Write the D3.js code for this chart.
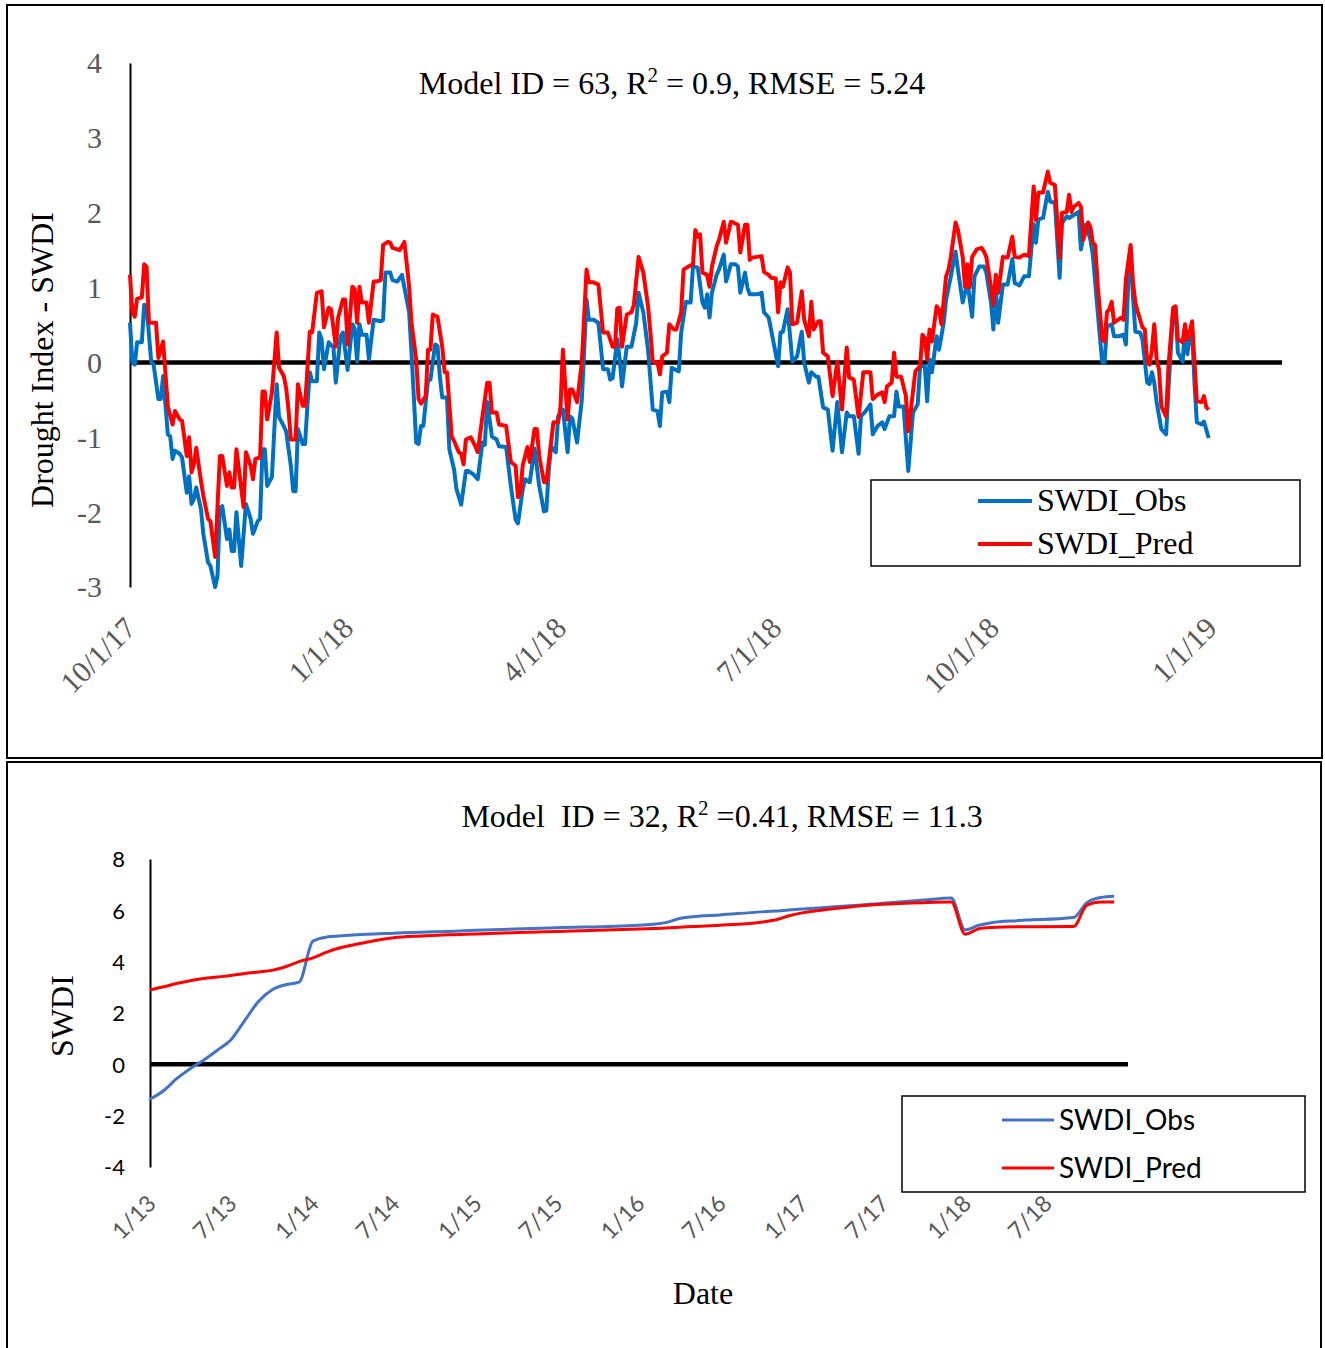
<!DOCTYPE html>
<html>
<head>
<meta charset="utf-8">
<script src="https://cdn.jsdelivr.net/npm/d3@7"></script>
<style>
  body { margin: 0; background: #fff; }
  svg { display: block; }
</style>
</head>
<body>
<svg id="fig" width="1325" height="1348"></svg>
<script>
// ---------- Panel A: daily SWDI, Model 63 (day offsets counted from 1 Oct 2017) ----------
const topStart = "2017-10-01";
const topEnd = "2019-01-31";
const topTickDates = ["2017-10-01", "2018-01-01", "2018-04-01", "2018-07-01", "2018-10-01", "2019-01-01"];
const topTickLabels = ["10/1/17", "1/1/18", "4/1/18", "7/1/18", "10/1/18", "1/1/19"];
const topYTicks = [4, 3, 2, 1, 0, -1, -2, -3];
const topSeriesNames = ["SWDI_Obs", "SWDI_Pred"];

// [day, SWDI] observed
const topObs = [
  [0,0.53],[1,0.0],[2,-0.03],[3,0.27],[5,0.27],[6,0.77],[7,0.75],[9,0.0],[10,-0.03],[12,-0.49],[13,-0.49],[14,-0.18],
  [16,-0.96],[17,-0.99],[18,-1.29],[19,-1.18],[21,-1.22],[22,-1.27],[24,-1.74],[25,-1.52],[26,-1.89],[27,-1.83],[28,-1.67],
  [30,-1.96],[31,-2.29],[33,-2.67],[34,-2.72],[36,-3.0],[37,-2.85],[38,-1.94],[39,-1.92],[41,-2.36],[42,-2.23],[43,-2.52],
  [44,-2.52],[45,-2.0],[47,-2.72],[49,-1.89],[51,-2.09],[52,-2.29],[54,-2.12],[55,-2.09],[56,-1.16],[57,-1.16],[58,-1.65],
  [60,-1.53],[62,-0.29],[63,-0.73],[65,-0.85],[66,-0.92],[68,-1.38],[69,-1.72],[70,-1.72],[71,-0.89],[73,-1.09],[74,-1.09],
  [75,-0.58],[76,-0.13],[77,-0.25],[79,-0.25],[80,0.40],[81,0.31],[82,-0.09],[84,0.27],[86,0.20],[87,-0.27],[89,0.35],
  [90,0.40],[92,-0.10],[94,0.51],[95,0.45],[96,0.01],[97,0.51],[98,0.37],[100,0.37],[101,0.04],[103,0.57],[106,0.55],
  [107,0.57],[108,1.20],[110,1.20],[111,1.10],[113,1.08],[115,1.17],[118,0.67],[119,0.13],[121,-1.07],[122,-1.09],
  [123,-0.85],[124,-0.85],[126,-0.23],[127,-0.23],[129,0.24],[130,0.22],[131,-0.19],[132,-0.47],[134,-0.47],[135,-1.16],
  [137,-1.43],[138,-1.69],[140,-1.90],[142,-1.45],[143,-1.45],[145,-1.49],[147,-1.56],[149,-1.07],[150,-1.10],[151,-0.53],
  [153,-0.99],[155,-1.03],[156,-1.12],[159,-1.13],[161,-1.65],[163,-2.10],[164,-2.15],[166,-1.70],[167,-1.56],[169,-1.60],
  [171,-1.15],[173,-1.65],[175,-1.99],[176,-1.98],[177,-1.45],[178,-1.12],[180,-1.20],[181,-0.72],[183,-0.63],[185,-1.20],
  [186,-0.72],[187,-0.75],[189,-1.07],[191,-0.50],[193,0.84],[194,0.57],[196,0.57],[198,0.53],[200,-0.09],[202,-0.09],
  [203,-0.23],[204,-0.21],[206,0.31],[207,0.04],[208,-0.32],[210,0.21],[212,0.21],[214,0.53],[215,0.93],[217,0.67],
  [219,0.17],[220,-0.23],[221,-0.63],[223,-0.65],[224,-0.85],[225,-0.40],[227,-0.39],[228,-0.53],[229,-0.07],[232,-0.12],
  [233,0.40],[235,0.81],[237,0.80],[238,1.28],[240,1.27],[242,0.80],[243,0.73],[244,0.91],[245,0.60],[246,0.93],
  [248,1.17],[249,1.24],[251,1.44],[252,1.08],[254,1.31],[256,1.31],[257,1.28],[258,0.93],[260,1.20],[261,1.0],
  [262,0.91],[265,0.91],[267,0.93],[268,0.67],[270,0.60],[271,0.44],[274,-0.05],[275,0.40],[276,0.41],[278,0.71],
  [280,0.01],[282,0.08],[284,0.41],[285,0.0],[287,-0.27],[288,-0.13],[290,-0.19],[291,-0.19],[293,-0.60],[295,-0.63],
  [297,-1.18],[299,-0.53],[301,-1.20],[303,-0.67],[304,-0.72],[306,-0.72],[308,-1.22],[309,-0.72],[311,-0.65],[313,-0.56],
  [314,-0.96],[316,-0.85],[318,-0.80],[319,-0.89],[321,-0.72],[323,-0.72],[324,-0.39],[325,-0.59],[327,-0.59],[329,-1.45],
  [331,-0.67],[333,-0.56],[334,-0.05],[336,-0.05],[337,-0.52],[338,0.04],[339,-0.13],[341,0.35],[342,0.17],[344,0.53],
  [345,0.84],[347,1.15],[349,1.48],[350,1.24],[352,0.80],[354,1.07],[356,0.61],[357,1.15],[359,1.28],[361,1.28],
  [362,1.20],[364,0.80],[365,0.44],[366,1.01],[367,0.53],[369,1.04],[371,1.04],[373,1.38],[374,1.06],[376,1.03],
  [378,1.15],[380,1.15],[382,1.85],[383,1.60],[384,1.91],[386,1.93],[388,2.28],[389,2.15],[391,2.13],[393,1.13],
  [394,1.86],[396,1.95],[397,1.93],[399,1.97],[401,2.01],[402,1.51],[404,1.84],[406,1.64],[407,1.44],[410,0.35],
  [411,0.0],[412,0.0],[413,0.48],[415,0.51],[416,0.35],[418,0.35],[420,0.37],[421,0.24],[422,1.07],[423,1.47],
  [424,0.88],[425,0.41],[427,0.40],[428,0.31],[430,-0.27],[431,-0.29],[432,-0.13],[433,-0.27],[434,-0.53],[436,-0.89],
  [438,-0.96],[439,-0.36],[441,0.71],[442,0.71],[443,0.13],[445,0.01],[446,0.47],[447,0.11],[448,0.35],[449,0.44],
  [450,-0.27],[451,-0.80],[453,-0.83],[454,-0.79],[456,-1.01]
];

// [day, SWDI] predicted
const topPred = [
  [0,1.17],[1,0.67],[2,0.61],[3,0.85],[5,0.87],[6,1.31],[7,1.28],[8,0.53],[11,0.53],[12,0.06],[14,0.28],[16,-0.59],
  [18,-0.83],[19,-0.65],[21,-0.76],[22,-0.78],[24,-1.25],[25,-1.0],[26,-1.47],[27,-1.36],[28,-1.14],[30,-1.58],[31,-1.78],
  [33,-2.09],[34,-2.12],[36,-2.6],[38,-1.25],[39,-1.25],[41,-1.65],[42,-1.47],[43,-1.67],[44,-1.67],[45,-1.16],[48,-1.93],
  [49,-1.2],[51,-1.38],[52,-1.56],[53,-1.29],[55,-1.27],[56,-0.39],[57,-0.39],[58,-0.76],[60,-0.40],[62,0.40],[63,-0.07],
  [65,-0.18],[66,-0.34],[67,-0.63],[68,-1.03],[70,-1.03],[71,-0.29],[73,-0.58],[74,-0.58],[75,-0.09],[76,0.41],[77,0.40],
  [79,0.93],[81,0.95],[82,0.47],[84,0.73],[85,0.71],[87,0.21],[88,0.60],[90,0.84],[91,0.84],[92,0.24],[94,1.01],[95,0.98],
  [96,0.53],[97,1.01],[98,0.80],[100,0.80],[101,0.53],[103,1.08],[104,1.08],[106,1.10],[107,1.57],[109,1.61],[110,1.60],
  [111,1.53],[113,1.51],[114,1.50],[116,1.61],[118,1.01],[119,0.53],[121,0.04],[122,-0.49],[123,-0.55],[125,-0.45],
  [126,0.17],[127,0.17],[128,0.64],[130,0.61],[132,0.21],[133,-0.13],[134,-0.13],[136,-0.99],[137,-1.05],[139,-1.20],
  [140,-1.22],[141,-1.36],[142,-1.03],[144,-1.00],[146,-1.12],[147,-1.20],[149,-0.72],[151,-0.27],[152,-0.27],[153,-0.67],
  [155,-0.67],[156,-0.83],[159,-0.85],[161,-1.33],[163,-1.38],[164,-1.80],[165,-1.75],[166,-1.38],[168,-1.13],[169,-1.33],
  [171,-0.89],[172,-0.89],[173,-1.25],[175,-1.60],[176,-1.60],[178,-1.07],[179,-0.80],[181,-0.80],[182,-0.59],[183,0.17],
  [185,-0.76],[186,-0.36],[187,-0.36],[189,-0.53],[191,0.0],[193,1.24],[194,1.07],[196,1.07],[198,1.04],[200,0.40],
  [201,0.40],[202,0.40],[204,0.21],[205,0.21],[206,0.72],[207,0.73],[208,0.21],[210,0.64],[212,0.67],[213,0.77],
  [215,1.41],[217,1.20],[219,0.75],[220,0.40],[221,0.01],[223,0.0],[224,-0.16],[225,0.08],[227,0.13],[228,0.51],
  [230,0.44],[231,0.44],[233,0.67],[234,1.24],[236,1.28],[238,1.31],[239,1.77],[240,1.68],[241,1.71],[242,1.20],
  [244,1.17],[245,1.01],[246,1.28],[248,1.55],[249,1.64],[251,1.88],[252,1.60],[254,1.88],[255,1.87],[257,1.84],
  [258,1.47],[260,1.84],[261,1.84],[262,1.37],[263,1.40],[265,1.41],[267,1.42],[268,1.21],[270,1.17],[271,1.13],
  [273,1.12],[274,0.67],[275,1.07],[276,1.01],[278,1.27],[279,1.20],[280,0.51],[282,0.53],[284,0.95],[285,0.57],
  [287,0.35],[288,0.81],[289,0.44],[291,0.55],[292,0.55],[293,0.13],[295,0.08],[297,-0.45],[299,0.01],[301,-0.63],
  [303,0.20],[304,-0.20],[306,-0.23],[308,-0.73],[310,-0.13],[312,-0.13],[313,-0.13],[314,-0.49],[316,-0.43],[318,-0.40],
  [319,-0.53],[320,-0.32],[322,-0.27],[323,0.13],[324,-0.19],[326,-0.19],[328,-0.45],[329,-0.92],[331,-0.39],[332,-0.12],
  [334,-0.05],[335,0.37],[336,0.33],[337,0.04],[338,0.44],[339,0.28],[341,0.75],[342,0.71],[343,0.51],[345,1.15],
  [346,1.24],[347,1.41],[349,1.87],[350,1.77],[352,1.41],[353,1.01],[354,1.31],[355,1.00],[356,1.41],[358,1.51],
  [360,1.53],[361,1.48],[362,1.41],[364,1.00],[365,0.77],[366,1.17],[367,0.93],[369,1.41],[371,1.40],[373,1.68],
  [374,1.41],[376,1.40],[378,1.44],[380,1.42],[382,2.35],[383,1.90],[384,2.27],[386,2.27],[388,2.55],[389,2.40],
  [391,2.37],[393,1.40],[394,2.00],[396,2.01],[397,2.24],[398,2.01],[399,2.08],[401,2.13],[402,2.08],[403,1.64],
  [405,1.87],[406,1.81],[407,1.60],[408,1.57],[409,1.07],[411,0.31],[412,0.28],[413,0.67],[414,0.71],[415,0.81],
  [416,0.53],[419,0.60],[420,0.57],[421,1.11],[423,1.57],[424,1.07],[425,0.80],[426,0.68],[428,0.47],[429,0.44],
  [430,0.00],[431,-0.03],[432,0.17],[433,0.51],[434,0.04],[435,-0.09],[436,-0.59],[438,-0.72],[439,-0.05],[441,0.73],
  [442,0.75],[443,0.31],[445,0.27],[446,0.51],[447,0.31],[448,0.40],[449,0.55],[450,0.00],[451,-0.52],[453,-0.53],
  [454,-0.45],[455,-0.60],[456,-0.63]
];

// ---------- Panel B: monthly SWDI, Model 32 ----------
const botStart = "2013-01-01";
const botEnd = "2019-01-01";
const botMonths = [
  "2013-01-01","2013-02-01","2013-03-01","2013-04-01","2013-05-01","2013-06-01","2013-07-01","2013-08-01",
  "2013-09-01","2013-10-01","2013-11-01","2013-12-01","2014-01-01","2014-02-01","2014-03-01","2014-04-01",
  "2014-05-01","2014-07-01","2014-09-01","2014-11-01","2015-01-01","2015-07-01","2016-01-01","2016-02-01",
  "2016-03-01","2016-04-01","2016-05-01","2016-07-01","2016-10-01","2016-11-01","2016-12-01","2017-01-01",
  "2017-03-01","2017-04-01","2017-05-01","2017-07-01","2017-10-01","2017-12-01","2018-01-01","2018-02-01",
  "2018-03-01","2018-05-01","2018-09-01","2018-10-01","2018-11-01","2018-12-01"
];
const botObs = [
  -1.36,-1.02,-0.57,-0.17,0.16,0.55,0.95,1.70,
  2.45,2.90,3.10,3.20,4.80,4.96,5.00,5.04,
  5.07,5.11,5.15,5.18,5.22,5.32,5.42,5.46,
  5.52,5.68,5.75,5.82,5.94,5.97,6.01,6.05,
  6.12,6.16,6.19,6.28,6.40,6.48,5.24,5.42,
  5.52,5.60,5.72,6.30,6.50,6.55
];
const botPred = [
  2.90,3.02,3.15,3.26,3.34,3.40,3.46,3.54,
  3.60,3.66,3.80,4.00,4.15,4.37,4.53,4.65,
  4.76,4.93,5.00,5.05,5.08,5.18,5.27,5.29,
  5.31,5.34,5.37,5.42,5.54,5.62,5.78,5.90,
  6.04,6.10,6.16,6.24,6.30,6.32,5.07,5.28,
  5.33,5.36,5.37,6.20,6.32,6.32
];
const botTickDates = ["2013-01-01","2013-07-01","2014-01-01","2014-07-01","2015-01-01","2015-07-01",
  "2016-01-01","2016-07-01","2017-01-01","2017-07-01","2018-01-01","2018-07-01"];
const botTickLabels = ["1/13","7/13","1/14","7/14","1/15","7/15","1/16","7/16","1/17","7/17","1/18","7/18"];
const botYTicks = [8, 6, 4, 2, 0, -2, -4];

// ---------- drawing ----------
const SERIF = "'Liberation Serif','Times New Roman',serif";
const SANS = "Lato,'Open Sans',sans-serif";
const GRAY = "#595959";
const BLUE_A = "#0070C0", BLUE_B = "#4472C4", RED = "#FF0000";
const parse = d3.timeParse("%Y-%m-%d");
const svg = d3.select("#fig");

// panel frames
svg.append("rect").attr("x", 7).attr("y", 5).attr("width", 1315).attr("height", 753)
  .attr("fill", "none").attr("stroke", "#000").attr("stroke-width", 2);
svg.append("rect").attr("x", 7).attr("y", 762).attr("width", 1314).attr("height", 640)
  .attr("fill", "none").attr("stroke", "#000").attr("stroke-width", 2);

function title(x, y, pre, post) {
  const t = svg.append("text").attr("x", x).attr("y", y).attr("text-anchor", "middle")
    .attr("font-family", SERIF).attr("font-size", 32).attr("fill", "#000").style("white-space", "pre");
  t.append("tspan").text(pre);
  t.append("tspan").attr("dy", -12).attr("font-size", 21).text("2");
  t.append("tspan").attr("dy", 12).text(post);
}

// ===== Panel A =====
const t0 = parse(topStart);
const xA = d3.scaleTime().domain([t0, parse(topEnd)]).range([130, 1282]);
const yA = d3.scaleLinear().domain([-3, 4]).range([587, 63]);

svg.append("line").attr("x1", xA.range()[0]).attr("x2", xA.range()[1])
  .attr("y1", yA(0)).attr("y2", yA(0)).attr("stroke", "#000").attr("stroke-width", 4.5);

const gyA = svg.append("g").attr("transform", `translate(${xA.range()[0]},0)`)
  .call(d3.axisLeft(yA).tickValues(topYTicks).tickSize(0).tickSizeOuter(0).tickPadding(28)
    .tickFormat(d => String(d)));
gyA.select(".domain").attr("stroke", "#000").attr("stroke-width", 2);
gyA.selectAll("text").attr("font-family", SERIF).attr("font-size", 30).attr("fill", GRAY).attr("dy", "0.33em");

const gxA = svg.append("g").attr("transform", "translate(0,630)")
  .call(d3.axisBottom(xA).tickValues(topTickDates.map(parse)).tickSize(0)
    .tickFormat((d, i) => topTickLabels[i]));
gxA.select(".domain").remove();
gxA.selectAll("text").attr("font-family", SERIF).attr("font-size", 30).attr("fill", GRAY)
  .attr("x", 0).attr("y", 0).attr("dy", 0).attr("text-anchor", "end")
  .attr("transform", "translate(7,0) rotate(-45)");

const lineA = d3.line().x(d => xA(d3.timeDay.offset(t0, d[0]))).y(d => yA(d[1]));
svg.append("path").datum(topObs).attr("d", lineA).attr("fill", "none")
  .attr("stroke", BLUE_A).attr("stroke-width", 4).attr("stroke-linejoin", "round");
svg.append("path").datum(topPred).attr("d", lineA).attr("fill", "none")
  .attr("stroke", RED).attr("stroke-width", 4).attr("stroke-linejoin", "round");

title(672, 94, "Model ID = 63, R", " = 0.9, RMSE = 5.24");

svg.append("text").attr("transform", "translate(53,360) rotate(-90)").attr("text-anchor", "middle")
  .attr("font-family", SERIF).attr("font-size", 32).attr("fill", "#000").text("Drought Index - SWDI");

// legend A
const legA = svg.append("g");
legA.append("rect").attr("x", 871).attr("y", 480).attr("width", 429).attr("height", 86)
  .attr("fill", "#fff").attr("stroke", "#000").attr("stroke-width", 1.5);
[BLUE_A, RED].forEach((c, i) => {
  const yy = 501 + i * 43;
  legA.append("line").attr("x1", 978).attr("x2", 1032).attr("y1", yy).attr("y2", yy)
    .attr("stroke", c).attr("stroke-width", 4);
  legA.append("text").attr("x", 1037).attr("y", yy + 10).attr("font-family", SERIF)
    .attr("font-size", 32).attr("fill", "#000").text(topSeriesNames[i]);
});

// ===== Panel B =====
const xB = d3.scaleTime().domain([parse(botStart), parse(botEnd)]).range([150, 1128]);
const yB = d3.scaleLinear().domain([-4, 8]).range([1167, 859]);

svg.append("line").attr("x1", xB.range()[0]).attr("x2", xB.range()[1])
  .attr("y1", yB(0)).attr("y2", yB(0)).attr("stroke", "#000").attr("stroke-width", 4.5);

const gyB = svg.append("g").attr("transform", `translate(${xB.range()[0]},0)`)
  .call(d3.axisLeft(yB).tickValues(botYTicks).tickSize(0).tickSizeOuter(0).tickPadding(25)
    .tickFormat(d => String(d)));
gyB.select(".domain").attr("stroke", "#000").attr("stroke-width", 2);
gyB.selectAll("text").attr("font-family", SANS).attr("font-size", 22).attr("fill", "#000").attr("dy", "0.36em");

const gxB = svg.append("g").attr("transform", "translate(0,1205)")
  .call(d3.axisBottom(xB).tickValues(botTickDates.map(parse)).tickSize(0)
    .tickFormat((d, i) => botTickLabels[i]));
gxB.select(".domain").remove();
gxB.selectAll("text").attr("font-family", SANS).attr("font-size", 23).attr("fill", GRAY)
  .attr("x", 0).attr("y", 0).attr("dy", 0).attr("text-anchor", "end")
  .attr("transform", "translate(7,0) rotate(-45)");

const lineB = d3.line().curve(d3.curveMonotoneX)
  .x((d, i) => xB(parse(botMonths[i]))).y(d => yB(d));
svg.append("path").datum(botObs).attr("d", lineB).attr("fill", "none")
  .attr("stroke", BLUE_B).attr("stroke-width", 3);
svg.append("path").datum(botPred).attr("d", lineB).attr("fill", "none")
  .attr("stroke", RED).attr("stroke-width", 3);

title(722, 827, "Model  ID = 32, R", " =0.41, RMSE = 11.3");

svg.append("text").attr("transform", "translate(73,1016) rotate(-90)").attr("text-anchor", "middle")
  .attr("font-family", SERIF).attr("font-size", 32).attr("fill", "#000").text("SWDI");
svg.append("text").attr("x", 703).attr("y", 1304).attr("text-anchor", "middle")
  .attr("font-family", SERIF).attr("font-size", 32).attr("fill", "#000").text("Date");

// legend B
const legB = svg.append("g");
legB.append("rect").attr("x", 902).attr("y", 1096).attr("width", 403).attr("height", 96)
  .attr("fill", "#fff").attr("stroke", "#000").attr("stroke-width", 1.5);
[BLUE_B, RED].forEach((c, i) => {
  const yy = 1120 + i * 48;
  legB.append("line").attr("x1", 1002).attr("x2", 1054).attr("y1", yy).attr("y2", yy)
    .attr("stroke", c).attr("stroke-width", 3);
  legB.append("text").attr("x", 1059).attr("y", yy + 10).attr("font-family", SANS)
    .attr("font-size", 28).attr("fill", "#000").text(topSeriesNames[i]);
});
</script>
</body>
</html>
